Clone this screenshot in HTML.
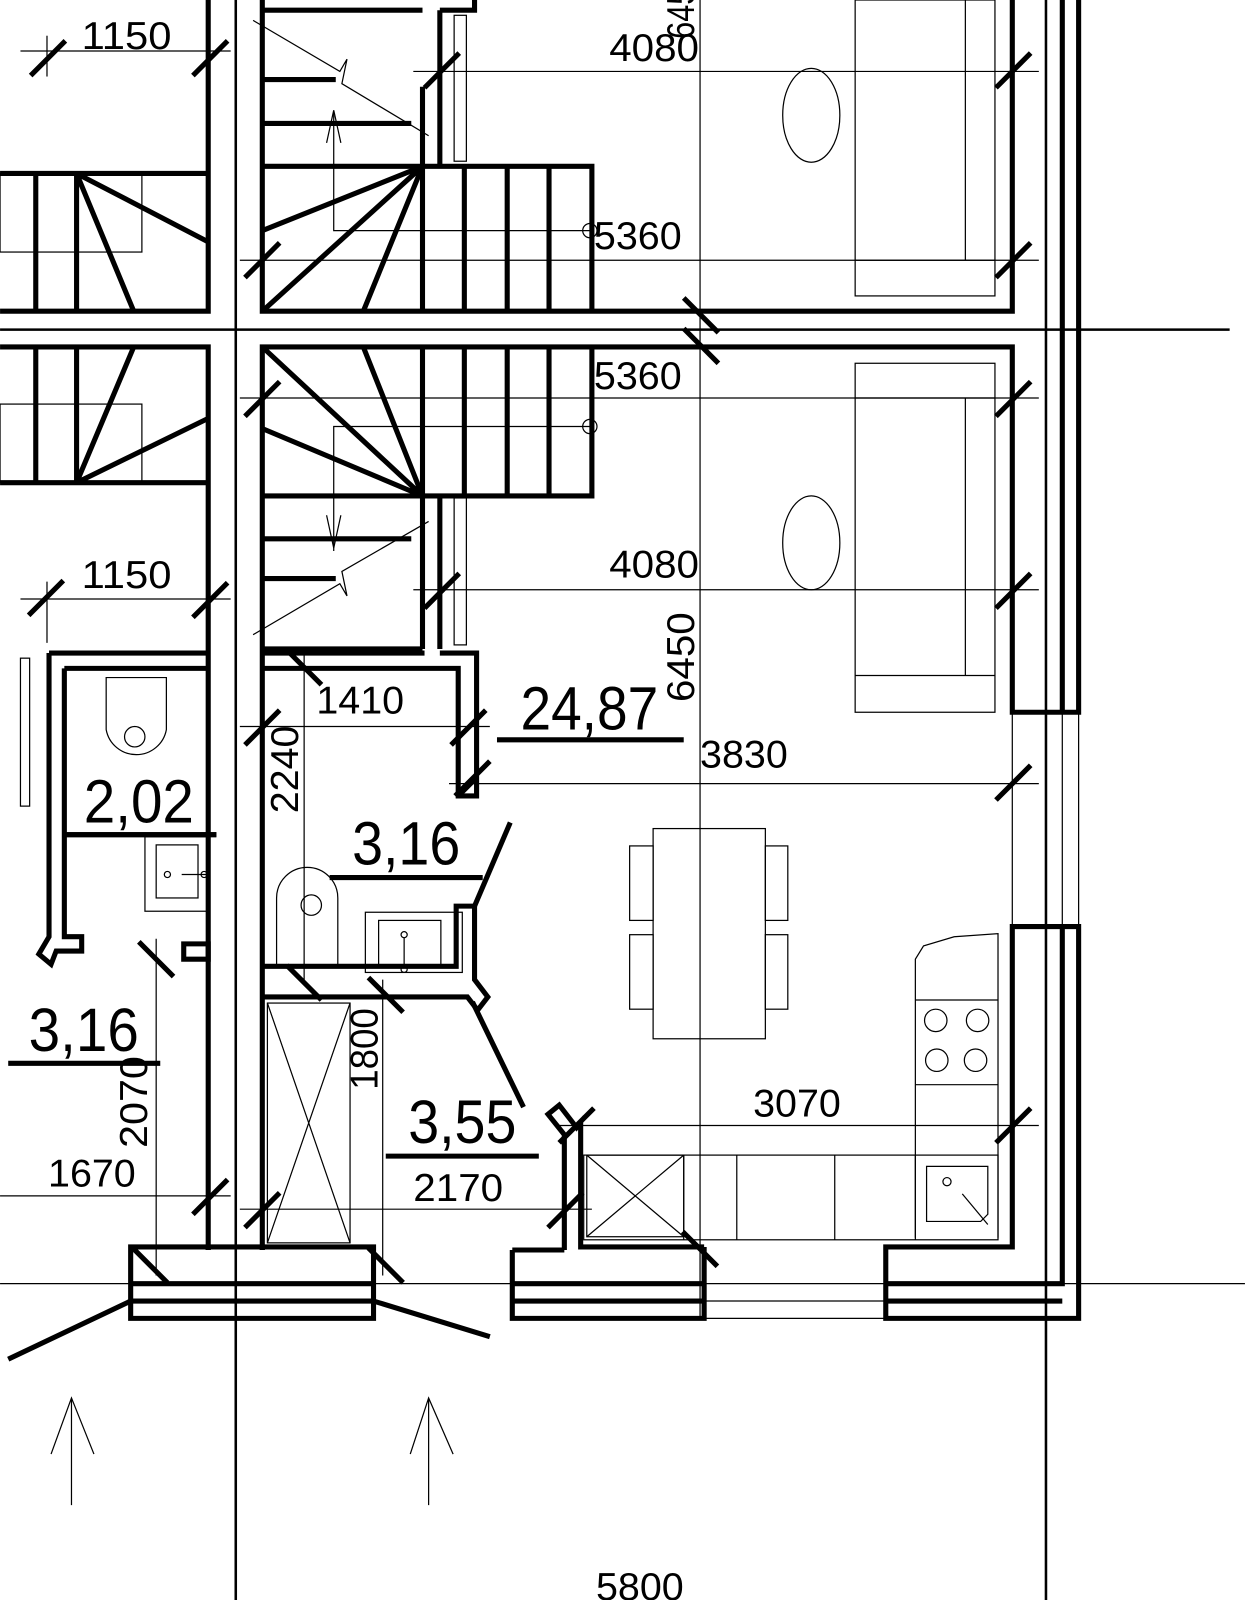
<!DOCTYPE html>
<html><head><meta charset="utf-8"><style>
html,body{margin:0;padding:0;background:#fff;}
svg{display:block;}
text{font-family:"Liberation Sans",sans-serif;fill:#000;}
</style></head><body>
<svg width="1245" height="1600" viewBox="0 0 1220 1568" xmlns="http://www.w3.org/2000/svg">
<rect width="1220" height="1568" fill="#fff"/>
<!-- thin lines -->
<g stroke="#000" stroke-width="1.2" fill="none">
<line x1="686" y1="0" x2="686" y2="1292"/>
<line x1="20" y1="50" x2="226" y2="50"/>
<line x1="405" y1="70" x2="1018" y2="70"/>
<line x1="235" y1="255" x2="1018" y2="255"/>
<line x1="235" y1="390" x2="1018" y2="390"/>
<line x1="405" y1="578" x2="1018" y2="578"/>
<line x1="20" y1="587" x2="226" y2="587"/>
<line x1="235" y1="712" x2="480" y2="712"/>
<line x1="440" y1="768" x2="1018" y2="768"/>
<line x1="548" y1="1103" x2="1018" y2="1103"/>
<line x1="0" y1="1172" x2="226" y2="1172"/>
<line x1="235" y1="1185" x2="580" y2="1185"/>
<line x1="0" y1="1258" x2="1220" y2="1258"/>
<line x1="298" y1="636" x2="298" y2="965"/>
<line x1="153" y1="920" x2="153" y2="1250"/>
<line x1="375" y1="960" x2="375" y2="1250"/>
<line x1="46" y1="570" x2="46" y2="630"/>
<line x1="46" y1="35" x2="46" y2="75"/>
<!-- top stair thin -->
<path d="M327 110 V226 H580"/>
<path d="M320 140 L327 108 L334 140"/>
<path d="M248 20 L333 70 L340 58 L335 82 L420 133"/>
<rect x="0" y="170" width="139" height="77"/>
<!-- lower stair thin -->
<path d="M327 540 V418 H580"/>
<path d="M320 505 L327 537 L334 505"/>
<path d="M248 622 L333 572 L340 584 L335 560 L420 511"/>
<rect x="0" y="396" width="139" height="77"/>
<circle cx="578" cy="226" r="7"/>
<circle cx="578" cy="418" r="7"/>
<!-- windows -->
<rect x="445" y="15" width="12" height="143"/>
<rect x="445" y="488" width="12" height="144"/>
<rect x="20" y="645" width="9" height="145"/>
<!-- sofas -->
<rect x="838" y="0" width="137" height="290"/><path d="M946 0 V255 M838 255 H975"/>
<rect x="838" y="356" width="137" height="342"/><path d="M838 390 H975 M946 390 V662 M838 662 H975"/>
<ellipse cx="795" cy="113" rx="28" ry="46"/>
<ellipse cx="795" cy="532" rx="28" ry="46"/>
<!-- table -->
<rect x="640" y="812" width="110" height="206"/>
<rect x="617" y="829" width="23" height="73"/><rect x="617" y="916" width="23" height="73"/>
<rect x="750" y="829" width="22" height="73"/><rect x="750" y="916" width="22" height="73"/>
<!-- kitchen -->
<path d="M897 1213 V940 L905 927 L935 918 L978 915 V1213"/>
<path d="M897 980 H978 M897 1063 H978"/>
<circle cx="917" cy="1000" r="11"/><circle cx="958" cy="1000" r="11"/>
<circle cx="918" cy="1039" r="11"/><circle cx="956" cy="1039" r="11"/>
<rect x="572" y="1132" width="406" height="83"/>
<path d="M670 1132 V1215 M722 1132 V1215 M818 1132 V1215 M897 1132 V1215"/>
<rect x="575" y="1132" width="95" height="80"/><path d="M575 1132 L670 1212 M670 1132 L575 1212"/>
<path d="M908 1143 H968 V1190 L961 1197 H908 Z"/><circle cx="928" cy="1158" r="4"/><path d="M943 1170 L968 1200"/>
<!-- toilets/sinks -->
<path d="M104 664 H163 V715 A30 30 0 0 1 104 715 Z"/><ellipse cx="132" cy="722" rx="10" ry="10"/>
<rect x="142" y="820" width="62" height="73"/><rect x="153" y="828" width="41" height="52"/><circle cx="164" cy="857" r="3"/><path d="M178 857 H203"/><circle cx="200" cy="857" r="3"/>
<path d="M271 948 V880 A30 30 0 0 1 331 880 V948 Z"/><circle cx="305" cy="887" r="10"/>
<rect x="358" y="894" width="95" height="59"/><rect x="371" y="902" width="61" height="44"/><circle cx="396" cy="916" r="3"/><path d="M396 919 V948"/><circle cx="396" cy="950" r="3"/>
<rect x="262" y="983" width="81" height="235"/><path d="M262 983 L343 1218 M343 983 L262 1218"/>
<!-- right wall thin continuations -->
<path d="M992 698 V908 M1041 698 V908 M1057 698 V908"/>
<path d="M690 1275 H868 M690 1292 H868"/>
<!-- bottom arrows -->
<path d="M70 1475 V1370 M50 1425 L70 1370 L92 1425"/>
<path d="M420 1475 V1370 M402 1425 L420 1370 L444 1425"/>
</g>
<!-- axis lines -->
<g stroke="#000" stroke-width="2.5" fill="none">
<line x1="231" y1="0" x2="231" y2="1568"/>
<line x1="1025" y1="0" x2="1025" y2="1568"/>
<line x1="0" y1="323" x2="1205" y2="323"/>
</g>
<!-- thick walls -->
<g stroke="#000" stroke-width="5" fill="none" stroke-linejoin="miter">
<path d="M204 0 V305 H0"/>
<path d="M257 0 V305 H992 V0"/>
<path d="M1041 0 V698 M1057 0 V698 H992 V340 H257 V1225"/>
<path d="M0 340 H204 V1225"/>
<path d="M257 10 H414 M431 10 H465 V0 M414 85 V163 M431 10 V163"/>
<!-- top stair -->
<path d="M257 163 H580 V305"/>
<path d="M414 163 V305 M455 163 V305 M497 163 V305 M538 163 V305"/>
<path d="M414 163 L257 226 M414 163 L257 305 M414 163 L356 305"/>
<path d="M257 78 H329 M257 121 H403"/>
<path d="M0 170 H204 M35 170 V305 M75 170 V305 M75 170 L204 237 M75 170 L131 305"/>
<!-- lower stair -->
<path d="M257 486 H580 V340"/>
<path d="M414 340 V636 M455 340 V486 M497 340 V486 M538 340 V486"/>
<path d="M414 486 L257 340 M414 486 L257 420 M414 486 L356 340"/>
<path d="M257 528 H403 M257 567 H329"/>
<path d="M0 473 H204 M35 340 V473 M75 340 V473 M75 473 L204 410 M75 473 L131 340"/>
<path d="M257 636 H414 M431 486 V636 M257 640 H416"/>
<!-- WC left -->
<path d="M48 640 H204 M63 655 H204 M48 640 V918 L38 935 L50 945 L55 932 H80 V918 H63 V655"/>
<path d="M180 925 H204 V940 H180 Z"/>
<path d="M62 818 H212"/>
<!-- bath middle -->
<path d="M257 655 H449 V780 H467 V640 H431"/>
<path d="M449 780 L467 762"/>
<path d="M257 947 H447 V888 H465 V960 L478 977 L468 990 L458 977 H257"/>
<path d="M465 888 L500 806"/>
<path d="M463 982 L513 1085"/>
<!-- kitchen walls -->
<path d="M553 1225 V1112 L537 1092 L548 1083 L565 1105 L569 1100 V1222 H690"/>
<path d="M502 1225 H553 M502 1225 V1292 H690 V1222 M502 1258 H690 M502 1275 H690"/>
<path d="M868 1222 H992 V908 H1057 V1292 H868 Z M868 1258 H1041 V908 M868 1275 H1041"/>
<!-- left bottom steps -->
<path d="M128 1222 H366 V1292 H128 Z M128 1258 H366 M128 1275 H366 M204 1222 V1225 M257 1222 V1225"/>
<path d="M128 1275 L8 1332 M366 1275 L480 1310"/>
<!-- underline bars -->
<path d="M62 818 H212" />
<path d="M487 725 H670"/>
<path d="M323 860 H473"/>
<path d="M8 1042 H157"/>
<path d="M378 1133 H528"/>
</g>
<!-- ticks -->
<g stroke="#000" stroke-width="5">
<path d="M30 74 L64 40 M189 74 L223 40 M240 272 L274 238 M416 86 L450 52 M976 86 L1010 52 M976 272 L1010 238
M240 408 L274 374 M976 408 L1010 374 M416 596 L450 562 M28 603 L62 569 M189 605 L223 571 M976 596 L1010 562
M240 730 L274 696 M442 730 L476 696 M446 780 L480 746 M976 784 L1010 750 M548 1120 L582 1086 M976 1120 L1010 1086
M189 1190 L223 1156 M240 1203 L274 1169 M537 1203 L571 1169
M670 292 L704 326 M670 322 L704 356 M281 637 L315 671 M281 946 L315 980 M361 958 L395 992 M136 923 L170 957
M669 1207 L703 1241 M130 1223 L164 1257 M361 1223 L395 1257"/>
</g>
<!-- text -->
<g font-size="38">
<text x="80" y="48" textLength="88" lengthAdjust="spacingAndGlyphs">1150</text>
<text x="80" y="576" textLength="88" lengthAdjust="spacingAndGlyphs">1150</text>
<text x="597" y="60" textLength="88" lengthAdjust="spacingAndGlyphs">4080</text>
<text x="597" y="566" textLength="88" lengthAdjust="spacingAndGlyphs">4080</text>
<text x="582" y="244" textLength="86" lengthAdjust="spacingAndGlyphs">5360</text>
<text x="582" y="381" textLength="86" lengthAdjust="spacingAndGlyphs">5360</text>
<text x="310" y="699" textLength="86" lengthAdjust="spacingAndGlyphs">1410</text>
<text x="686" y="752" textLength="86" lengthAdjust="spacingAndGlyphs">3830</text>
<text x="738" y="1094" textLength="86" lengthAdjust="spacingAndGlyphs">3070</text>
<text x="405" y="1177" textLength="88" lengthAdjust="spacingAndGlyphs">2170</text>
<text x="47" y="1163" textLength="86" lengthAdjust="spacingAndGlyphs">1670</text>
<text x="584" y="1568" textLength="86" lengthAdjust="spacingAndGlyphs">5800</text>
<text transform="translate(292,797) rotate(-90)" textLength="86" lengthAdjust="spacingAndGlyphs">2240</text>
<text transform="translate(370,1068) rotate(-90)" textLength="80" lengthAdjust="spacingAndGlyphs">1800</text>
<text transform="translate(144,1125) rotate(-90)" textLength="90" lengthAdjust="spacingAndGlyphs">2070</text>
<text transform="translate(680,688) rotate(-90)" textLength="88" lengthAdjust="spacingAndGlyphs">6450</text>
<text transform="translate(680,38) rotate(-90)" textLength="50" lengthAdjust="spacingAndGlyphs">645</text>
</g>
<g font-size="60">
<text x="510" y="715" textLength="135" lengthAdjust="spacingAndGlyphs">24,87</text>
<text x="82" y="806" textLength="108" lengthAdjust="spacingAndGlyphs">2,02</text>
<text x="345" y="847" textLength="106" lengthAdjust="spacingAndGlyphs">3,16</text>
<text x="28" y="1030" textLength="108" lengthAdjust="spacingAndGlyphs">3,16</text>
<text x="400" y="1120" textLength="106" lengthAdjust="spacingAndGlyphs">3,55</text>
</g>
</svg>
</body></html>
